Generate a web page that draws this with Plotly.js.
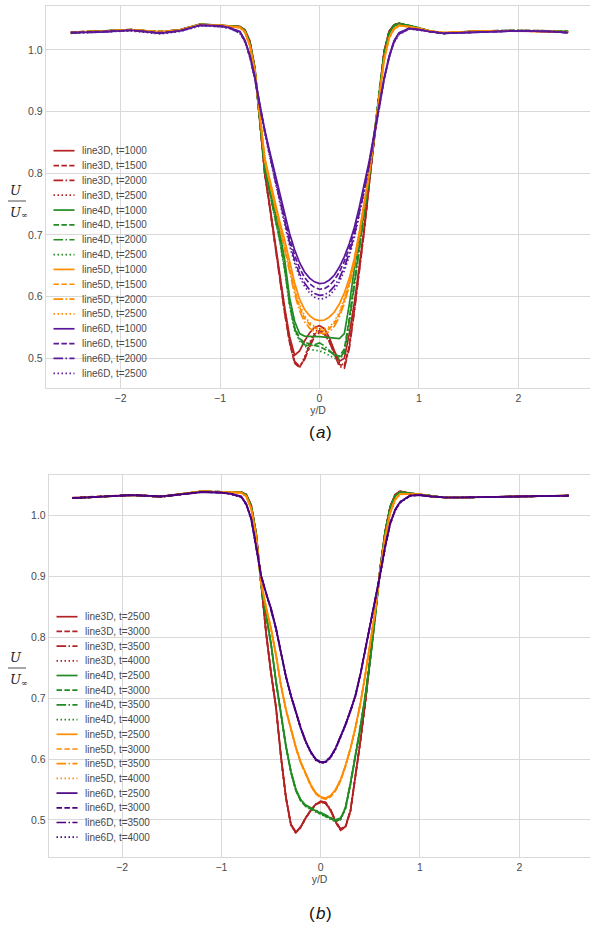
<!DOCTYPE html>
<html>
<head>
<meta charset="utf-8">
<script src="https://cdn.plot.ly/plotly-3.0.1.min.js"></script>
<style>html,body{margin:0;padding:0;background:#fff;}#chart{width:590px;height:928px;}</style>
</head>
<body>
<div id="chart"></div>
<script>
// ---------- data ----------
const Y_D = [-2.5,-2.2,-1.9,-1.6,-1.4,-1.2,-1.0,-0.9,-0.8,-0.75,-0.7,-0.65,-0.6,-0.55,-0.5,-0.45,-0.4,-0.35,-0.3,-0.25,-0.2,-0.15,-0.1,-0.05,0,0.05,0.1,0.15,0.2,0.25,0.3,0.35,0.4,0.45,0.5,0.55,0.6,0.65,0.7,0.75,0.8,0.9,1.0,1.1,1.25,1.4,1.7,2.0,2.3,2.5];

const STATIONS = ['line3D','line4D','line5D','line6D'];
const TIMES_A = [1000,1500,2000,2500];
const TIMES_B = [2500,3000,3500,4000];

// panel (a)
const A_3D_1000 = [1.028,1.030,1.033,1.029,1.033,1.042,1.040,1.039, 1.038,1.033,1.015,0.972,0.886,0.800,0.748,0.692,0.636,0.582,0.535,0.505,0.512,0.528,0.541,0.550,0.553,0.548,0.533,0.512,0.495,0.500,0.540,0.590,0.650,0.712,0.785,0.858,0.935,0.998,1.030,1.041,1.043, 1.039,1.035,1.031,1.027,1.029,1.031,1.031,1.030,1.029];
const A_3D_1500 = [1.029,1.030,1.032,1.030,1.032,1.041,1.040,1.039, 1.038,1.032,1.013,0.970,0.885,0.800,0.745,0.688,0.630,0.574,0.525,0.492,0.485,0.500,0.522,0.539,0.545,0.541,0.527,0.507,0.490,0.487,0.520,0.578,0.642,0.708,0.783,0.857,0.935,0.998,1.030,1.041,1.043, 1.039,1.035,1.030,1.027,1.029,1.031,1.031,1.030,1.029];
const A_3D_2000 = [1.028,1.031,1.033,1.029,1.033,1.041,1.040,1.039, 1.038,1.032,1.013,0.969,0.884,0.799,0.744,0.687,0.629,0.573,0.526,0.495,0.487,0.498,0.518,0.535,0.542,0.539,0.526,0.505,0.487,0.484,0.516,0.575,0.640,0.706,0.782,0.856,0.934,0.997,1.030,1.041,1.043, 1.040,1.035,1.031,1.027,1.029,1.031,1.032,1.031,1.030];
const A_3D_2500 = [1.028,1.030,1.033,1.028,1.032,1.041,1.040,1.038, 1.038,1.031,1.012,0.968,0.883,0.798,0.744,0.688,0.631,0.576,0.527,0.493,0.485,0.502,0.525,0.542,0.548,0.544,0.530,0.510,0.492,0.489,0.522,0.580,0.643,0.709,0.783,0.857,0.934,0.997,1.029,1.040,1.042, 1.039,1.035,1.031,1.027,1.029,1.031,1.031,1.030,1.029];
const A_4D_1000 = [1.028,1.030,1.033,1.029,1.032,1.042,1.040,1.039, 1.038,1.032,1.012,0.970,0.888,0.808,0.775,0.742,0.705,0.660,0.598,0.560,0.540,0.536,0.535,0.535,0.535,0.534,0.533,0.532,0.532,0.540,0.588,0.645,0.692,0.742,0.797,0.862,0.935,0.995,1.028,1.040,1.043, 1.040,1.036,1.031,1.027,1.029,1.031,1.031,1.031,1.030];
const A_4D_1500 = [1.029,1.030,1.032,1.030,1.032,1.041,1.040,1.039, 1.037,1.031,1.010,0.968,0.886,0.806,0.770,0.735,0.695,0.648,0.590,0.550,0.532,0.526,0.523,0.521,0.519,0.515,0.511,0.506,0.503,0.515,0.565,0.625,0.680,0.735,0.792,0.860,0.933,0.994,1.027,1.040,1.042, 1.040,1.036,1.031,1.027,1.029,1.031,1.032,1.031,1.030];
const A_4D_2000 = [1.028,1.031,1.033,1.029,1.033,1.041,1.040,1.039, 1.037,1.031,1.010,0.967,0.885,0.805,0.768,0.732,0.692,0.645,0.587,0.548,0.530,0.522,0.520,0.522,0.525,0.520,0.512,0.505,0.500,0.510,0.560,0.620,0.677,0.733,0.790,0.859,0.932,0.993,1.027,1.039,1.042, 1.039,1.036,1.031,1.027,1.029,1.031,1.031,1.031,1.030];
const A_4D_2500 = [1.028,1.030,1.033,1.028,1.032,1.041,1.040,1.038, 1.037,1.030,1.009,0.966,0.884,0.804,0.767,0.730,0.690,0.642,0.584,0.545,0.528,0.520,0.515,0.513,0.512,0.509,0.505,0.500,0.498,0.508,0.558,0.618,0.675,0.732,0.789,0.858,0.932,0.993,1.026,1.039,1.042, 1.039,1.035,1.031,1.027,1.029,1.031,1.031,1.030,1.029];
const A_5D_1000 = [1.029,1.030,1.033,1.029,1.032,1.041,1.040,1.038, 1.037,1.030,1.008,0.968,0.893,0.825,0.790,0.755,0.722,0.692,0.656,0.622,0.596,0.579,0.569,0.563,0.561,0.562,0.567,0.575,0.588,0.606,0.630,0.662,0.705,0.752,0.802,0.862,0.926,0.985,1.020,1.035,1.040, 1.038,1.035,1.031,1.028,1.029,1.031,1.031,1.030,1.029];
const A_5D_1500 = [1.029,1.031,1.032,1.030,1.032,1.041,1.040,1.038, 1.036,1.029,1.006,0.966,0.891,0.822,0.786,0.750,0.715,0.683,0.645,0.610,0.583,0.565,0.555,0.549,0.546,0.545,0.548,0.557,0.572,0.594,0.622,0.656,0.700,0.748,0.800,0.860,0.925,0.984,1.019,1.034,1.040, 1.038,1.035,1.031,1.028,1.029,1.031,1.031,1.031,1.029];
const A_5D_2000 = [1.028,1.030,1.033,1.029,1.033,1.041,1.040,1.038, 1.036,1.029,1.006,0.965,0.890,0.820,0.784,0.748,0.712,0.679,0.640,0.604,0.577,0.559,0.549,0.543,0.541,0.540,0.543,0.552,0.567,0.589,0.618,0.652,0.697,0.746,0.798,0.859,0.924,0.983,1.019,1.034,1.039, 1.038,1.034,1.031,1.028,1.029,1.031,1.031,1.030,1.029];
const A_5D_2500 = [1.028,1.030,1.032,1.028,1.032,1.040,1.040,1.038, 1.036,1.028,1.005,0.964,0.889,0.821,0.786,0.751,0.716,0.685,0.648,0.613,0.587,0.569,0.558,0.552,0.549,0.548,0.551,0.560,0.575,0.597,0.625,0.658,0.702,0.749,0.800,0.860,0.925,0.984,1.019,1.034,1.039, 1.038,1.035,1.031,1.028,1.029,1.031,1.031,1.030,1.029];
const A_6D_1000 = [1.028,1.029,1.032,1.027,1.031,1.040,1.039,1.036, 1.030,1.016,0.992,0.957,0.912,0.870,0.835,0.800,0.768,0.735,0.702,0.676,0.655,0.640,0.630,0.624,0.621,0.622,0.627,0.635,0.648,0.665,0.686,0.712,0.745,0.780,0.820,0.865,0.910,0.955,0.990,1.015,1.028, 1.035,1.033,1.030,1.027,1.028,1.030,1.031,1.030,1.028];
const A_6D_1500 = [1.028,1.030,1.032,1.028,1.031,1.040,1.039,1.036, 1.029,1.015,0.990,0.955,0.910,0.868,0.832,0.796,0.762,0.728,0.694,0.667,0.646,0.631,0.621,0.615,0.612,0.613,0.618,0.627,0.640,0.657,0.679,0.706,0.740,0.776,0.817,0.862,0.908,0.953,0.989,1.014,1.027, 1.035,1.033,1.030,1.027,1.028,1.030,1.031,1.030,1.028];
const A_6D_2000 = [1.028,1.029,1.032,1.027,1.031,1.040,1.038,1.035, 1.028,1.014,0.989,0.953,0.908,0.866,0.829,0.792,0.757,0.722,0.687,0.659,0.637,0.622,0.611,0.605,0.602,0.603,0.608,0.617,0.630,0.648,0.671,0.699,0.735,0.772,0.814,0.860,0.906,0.952,0.988,1.013,1.026, 1.034,1.033,1.030,1.027,1.028,1.030,1.031,1.030,1.028];
const A_6D_2500 = [1.027,1.029,1.031,1.026,1.030,1.039,1.038,1.035, 1.027,1.013,0.988,0.952,0.907,0.864,0.827,0.789,0.753,0.717,0.682,0.654,0.632,0.617,0.606,0.599,0.596,0.597,0.602,0.611,0.624,0.642,0.666,0.695,0.732,0.770,0.812,0.858,0.905,0.951,0.987,1.012,1.025, 1.034,1.032,1.030,1.027,1.028,1.030,1.031,1.030,1.028];

// panel (b)
const B_3D_2500 = [1.029,1.032,1.034,1.032,1.036,1.040,1.039,1.039, 1.039,1.035,1.018,0.972,0.886,0.808,0.742,0.686,0.605,0.538,0.493,0.480,0.489,0.504,0.516,0.526,0.530,0.528,0.516,0.497,0.484,0.489,0.515,0.570,0.630,0.695,0.770,0.842,0.915,0.975,1.015,1.035,1.040, 1.037,1.035,1.032,1.030,1.030,1.031,1.032,1.032,1.033];
const B_3D_3000 = [1.030,1.032,1.034,1.032,1.035,1.040,1.039,1.039, 1.039,1.035,1.017,0.971,0.885,0.807,0.741,0.684,0.603,0.536,0.492,0.479,0.488,0.503,0.515,0.525,0.529,0.527,0.515,0.496,0.483,0.488,0.514,0.569,0.629,0.694,0.769,0.841,0.914,0.975,1.015,1.035,1.040, 1.037,1.035,1.032,1.030,1.030,1.031,1.032,1.032,1.033];
const B_3D_3500 = [1.029,1.031,1.034,1.031,1.036,1.040,1.039,1.039, 1.039,1.034,1.017,0.971,0.886,0.808,0.742,0.685,0.604,0.537,0.492,0.479,0.489,0.504,0.516,0.526,0.531,0.529,0.517,0.498,0.485,0.490,0.516,0.571,0.631,0.696,0.770,0.842,0.915,0.975,1.015,1.035,1.040, 1.037,1.035,1.032,1.030,1.030,1.031,1.032,1.032,1.033];
const B_3D_4000 = [1.029,1.032,1.034,1.032,1.036,1.040,1.039,1.039, 1.039,1.034,1.016,0.970,0.885,0.806,0.740,0.683,0.602,0.535,0.491,0.478,0.488,0.503,0.515,0.525,0.529,0.527,0.516,0.497,0.484,0.489,0.515,0.570,0.630,0.695,0.769,0.841,0.914,0.974,1.014,1.034,1.040, 1.037,1.035,1.032,1.030,1.030,1.031,1.032,1.032,1.033];
const B_4D_2500 = [1.029,1.032,1.034,1.032,1.036,1.040,1.039,1.039, 1.039,1.034,1.016,0.970,0.887,0.838,0.790,0.728,0.676,0.622,0.580,0.550,0.533,0.524,0.519,0.515,0.512,0.508,0.503,0.499,0.502,0.520,0.560,0.606,0.652,0.705,0.765,0.835,0.914,0.974,1.014,1.033,1.039, 1.037,1.035,1.032,1.030,1.030,1.031,1.032,1.032,1.033];
const B_4D_3000 = [1.029,1.032,1.034,1.032,1.035,1.040,1.039,1.039, 1.039,1.034,1.016,0.969,0.886,0.836,0.788,0.726,0.674,0.620,0.578,0.548,0.531,0.522,0.518,0.514,0.511,0.507,0.502,0.498,0.501,0.519,0.559,0.605,0.651,0.704,0.764,0.834,0.913,0.974,1.014,1.033,1.039, 1.037,1.035,1.032,1.030,1.030,1.031,1.032,1.032,1.033];
const B_4D_3500 = [1.029,1.031,1.034,1.031,1.036,1.040,1.039,1.039, 1.039,1.034,1.015,0.969,0.886,0.837,0.789,0.727,0.675,0.621,0.579,0.549,0.532,0.524,0.520,0.516,0.513,0.509,0.504,0.500,0.503,0.521,0.561,0.607,0.653,0.706,0.766,0.836,0.914,0.974,1.014,1.033,1.039, 1.037,1.035,1.032,1.030,1.030,1.031,1.032,1.032,1.033];
const B_4D_4000 = [1.029,1.032,1.034,1.032,1.036,1.040,1.039,1.038, 1.038,1.033,1.015,0.968,0.885,0.836,0.788,0.727,0.675,0.621,0.579,0.549,0.531,0.523,0.517,0.513,0.510,0.506,0.501,0.497,0.500,0.518,0.558,0.605,0.651,0.704,0.764,0.835,0.913,0.973,1.013,1.032,1.038, 1.037,1.035,1.032,1.030,1.030,1.031,1.032,1.032,1.033];
const B_5D_2500 = [1.029,1.032,1.034,1.032,1.036,1.040,1.039,1.038, 1.038,1.032,1.012,0.966,0.890,0.850,0.815,0.772,0.722,0.682,0.650,0.620,0.595,0.575,0.558,0.545,0.538,0.536,0.540,0.550,0.566,0.590,0.618,0.652,0.692,0.740,0.790,0.845,0.910,0.965,1.005,1.027,1.036, 1.036,1.035,1.032,1.030,1.030,1.031,1.032,1.032,1.033];
const B_5D_3000 = [1.029,1.032,1.034,1.032,1.035,1.040,1.039,1.038, 1.038,1.032,1.011,0.965,0.889,0.848,0.813,0.770,0.720,0.680,0.648,0.618,0.593,0.573,0.556,0.543,0.536,0.534,0.538,0.548,0.564,0.588,0.617,0.651,0.691,0.739,0.789,0.845,0.910,0.965,1.005,1.027,1.036, 1.036,1.035,1.032,1.030,1.030,1.031,1.032,1.032,1.033];
const B_5D_3500 = [1.029,1.031,1.034,1.031,1.036,1.040,1.039,1.038, 1.038,1.032,1.012,0.966,0.890,0.849,0.814,0.771,0.721,0.681,0.649,0.619,0.594,0.574,0.557,0.544,0.537,0.535,0.539,0.549,0.565,0.589,0.618,0.652,0.692,0.740,0.790,0.846,0.911,0.966,1.005,1.027,1.036, 1.036,1.035,1.032,1.030,1.030,1.031,1.032,1.032,1.033];
const B_5D_4000 = [1.029,1.032,1.034,1.032,1.036,1.040,1.039,1.038, 1.037,1.031,1.011,0.965,0.889,0.849,0.814,0.771,0.721,0.681,0.649,0.619,0.594,0.574,0.557,0.544,0.537,0.535,0.539,0.549,0.565,0.589,0.617,0.651,0.691,0.739,0.789,0.845,0.910,0.965,1.004,1.026,1.035, 1.036,1.035,1.032,1.030,1.030,1.031,1.032,1.032,1.033];
const B_6D_2500 = [1.029,1.031,1.034,1.032,1.035,1.039,1.038,1.036, 1.032,1.020,0.996,0.952,0.902,0.873,0.848,0.815,0.775,0.736,0.705,0.676,0.651,0.629,0.612,0.600,0.595,0.596,0.604,0.618,0.637,0.657,0.680,0.705,0.740,0.780,0.820,0.862,0.905,0.950,0.988,1.010,1.023, 1.033,1.034,1.032,1.030,1.030,1.031,1.032,1.032,1.033];
const B_6D_3000 = [1.029,1.031,1.034,1.032,1.035,1.039,1.038,1.036, 1.031,1.019,0.995,0.951,0.901,0.872,0.847,0.814,0.774,0.735,0.704,0.675,0.650,0.628,0.611,0.599,0.594,0.595,0.603,0.617,0.636,0.656,0.679,0.704,0.739,0.779,0.819,0.861,0.904,0.949,0.987,1.009,1.022, 1.033,1.034,1.032,1.030,1.030,1.031,1.032,1.032,1.033];
const B_6D_3500 = [1.029,1.031,1.034,1.031,1.035,1.039,1.038,1.036, 1.031,1.019,0.995,0.952,0.902,0.873,0.848,0.815,0.775,0.736,0.705,0.676,0.651,0.629,0.612,0.600,0.595,0.596,0.604,0.618,0.637,0.657,0.680,0.705,0.740,0.780,0.820,0.862,0.905,0.950,0.988,1.010,1.023, 1.033,1.034,1.032,1.030,1.030,1.031,1.032,1.032,1.033];
const B_6D_4000 = [1.029,1.031,1.034,1.032,1.035,1.039,1.038,1.035, 1.030,1.018,0.994,0.950,0.900,0.871,0.846,0.813,0.773,0.734,0.703,0.674,0.649,0.627,0.610,0.598,0.593,0.594,0.602,0.616,0.635,0.655,0.678,0.703,0.738,0.778,0.818,0.860,0.903,0.948,0.986,1.008,1.021, 1.033,1.034,1.032,1.030,1.030,1.031,1.032,1.032,1.033];

const SERIES_A = [A_3D_1000,A_3D_1500,A_3D_2000,A_3D_2500, A_4D_1000,A_4D_1500,A_4D_2000,A_4D_2500, A_5D_1000,A_5D_1500,A_5D_2000,A_5D_2500, A_6D_1000,A_6D_1500,A_6D_2000,A_6D_2500];
const SERIES_B = [B_3D_2500,B_3D_3000,B_3D_3500,B_3D_4000, B_4D_2500,B_4D_3000,B_4D_3500,B_4D_4000, B_5D_2500,B_5D_3000,B_5D_3500,B_5D_4000, B_6D_2500,B_6D_3000,B_6D_3500,B_6D_4000];

const Y_TICKS = [0.5,0.6,0.7,0.8,0.9,1.0];
const X_TICKS = [-2,-1,0,1,2];

// ---------- styles ----------
const COLORS_A = ['#b22222','#228b22','#ff8c00','#5a189a'];
const COLORS_B = ['#b22222','#228b22','#ff8c00','#4b0082'];
const DASHES = ['solid','5.5px,2.4px','9.6px,2.4px,1.5px,2.4px','1.5px,2.5px'];
const LW = 1.7;
const FONT = 'Liberation Sans, Arial, sans-serif';
const SERIF = 'DejaVu Serif, serif';
const TXT = '#4a4a4a';
const GRID = '#d9d9d9';
const W = 590, H = 928;

const traces = [];
function addPanel(series, times, colors, xa, ya) {
  series.forEach((ys, i) => {
    const s = Math.floor(i / 4), t = i % 4;
    traces.push({
      type: 'scatter', mode: 'lines', x: Y_D, y: ys, xaxis: xa, yaxis: ya,
      name: STATIONS[s] + ', t=' + times[t],
      line: {color: colors[s], width: LW, dash: DASHES[t]},
      showlegend: false, hoverinfo: 'skip'
    });
  });
}
addPanel(SERIES_A, TIMES_A, COLORS_A, 'x', 'y');
addPanel(SERIES_B, TIMES_B, COLORS_B, 'x2', 'y2');

const shapes = [], annotations = [];
function note(px, py, text, font, xanchor) {
  annotations.push({xref:'paper', yref:'paper', x:px/W, y:1-py/H, xanchor:xanchor||'center', yanchor:'middle',
    text, showarrow:false, borderpad:0, borderwidth:0, font});
}
// hand-built legends (matplotlib-like compact spacing)
function addLegend(times, colors, top, step, x0, x1, xt) {
  for (let i = 0; i < 16; i++) {
    const s = Math.floor(i / 4), t = i % 4;
    const py = top + i * step;
    shapes.push({type:'line', xref:'paper', yref:'paper', x0:x0/W, x1:x1/W, y0:1-py/H, y1:1-py/H,
      line:{color:colors[s], width:LW, dash:DASHES[t]}});
    note(xt, py, STATIONS[s] + ', t=' + times[t], {family:FONT, size:10, color:TXT}, 'left');
  }
}
addLegend(TIMES_A, COLORS_A, 150.7, 14.84, 53.5, 74.5, 82);
addLegend(TIMES_B, COLORS_B, 616.7, 14.7, 56.5, 77.5, 84.5);

// y-axis fraction label U / U_inf
function addFrac(cy) {
  note(16, cy - 11, 'U', {family:SERIF, size:13, color:'#222', style:'italic'});
  note(16, cy + 11, 'U', {family:SERIF, size:13, color:'#222', style:'italic'});
  note(24.5, cy + 15, '\u221e', {family:SERIF, size:8, color:'#222'});
  shapes.push({type:'line', xref:'paper', yref:'paper', x0:8/W, x1:26/W, y0:1-cy/H, y1:1-cy/H,
    line:{color:'#222', width:0.8}});
}
addFrac(201);
addFrac(668);

// panel captions "(a)" and "(b)"
function caption(py, letter) {
  note(315, py, '(', {family:FONT, size:17, color:'#111'}, 'right');
  note(320.5, py, letter, {family:FONT, size:17, color:'#111', style:'italic'}, 'center');
  note(325.5, py, ')', {family:FONT, size:17, color:'#111'}, 'left');
}
caption(433, 'a');
caption(913, 'b');

function xAxis(domain, range) {
  return {domain, range, tickvals: X_TICKS, ticktext: X_TICKS.map(v => v < 0 ? '\u2212' + Math.abs(v) : String(v)),
    showgrid: true, gridcolor: GRID, gridwidth: 1, zeroline: false,
    showline: true, mirror: true, linecolor: GRID, linewidth: 1.2, ticks: '',
    tickfont: {family: FONT, size: 10.5, color: TXT},
    title: {text: 'y/D', font: {family: FONT, size: 10.5, color: TXT}, standoff: 3}, automargin: false};
}
function yAxis(domain, range, anchor) {
  return {domain, range, anchor, tickvals: Y_TICKS, tickformat: '.1f',
    showgrid: true, gridcolor: GRID, gridwidth: 1, zeroline: false,
    showline: true, mirror: true, linecolor: GRID, linewidth: 1.2, ticks: '',
    tickfont: {family: FONT, size: 10.5, color: TXT}, automargin: false};
}

const layout = {
  width: W, height: H, margin: {l: 0, r: 0, t: 0, b: 0},
  paper_bgcolor: '#fff', plot_bgcolor: '#fff', showlegend: false, hovermode: false,
  xaxis: Object.assign(xAxis([46/W, 1], [-2.75, 2.72]), {anchor: 'y'}),
  yaxis: yAxis([1-388/H, 1-6/H], [0.4518, 1.0713], 'x'),
  xaxis2: Object.assign(xAxis([49/W, 1], [-2.736, 2.712]), {anchor: 'y2'}),
  yaxis2: yAxis([1-857/H, 1-475/H], [0.439, 1.067], 'x2'),
  shapes, annotations
};

Plotly.newPlot('chart', traces, layout, {displayModeBar: false, staticPlot: true});
</script>
</body>
</html>
